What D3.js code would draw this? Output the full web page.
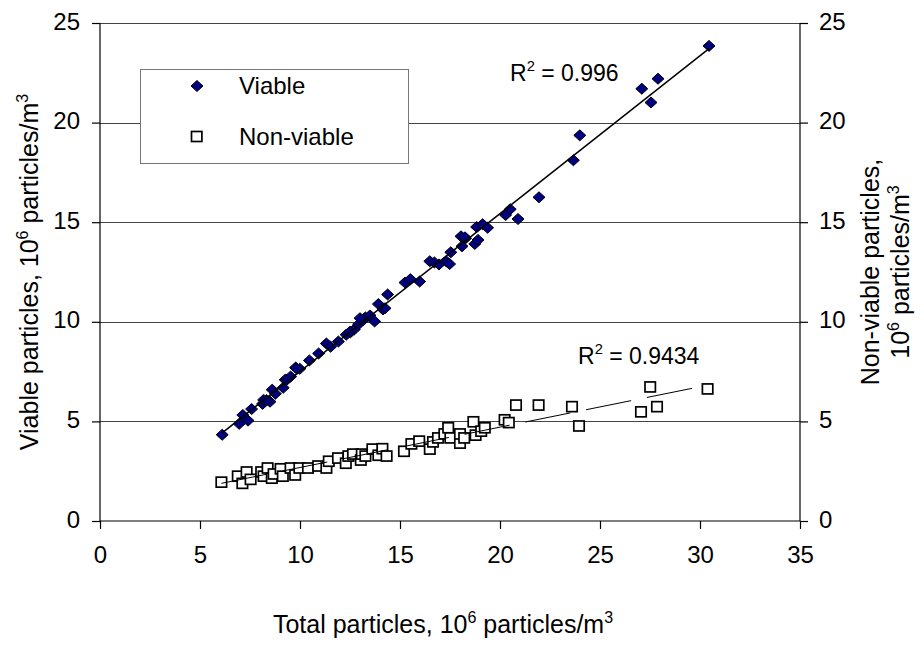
<!DOCTYPE html>
<html>
<head>
<meta charset="utf-8">
<script src="https://cdn.jsdelivr.net/npm/d3@7"></script>
<style>
  html, body { margin: 0; padding: 0; background: #fff; }
  svg text { font-family: "Liberation Sans", Arial, sans-serif; fill: #000; }
</style>
</head>
<body>
<svg id="chart" width="924" height="646"></svg>
<script>
// ---- data ----
const xTicks = [0, 5, 10, 15, 20, 25, 30, 35];
const yTicks = [0, 5, 10, 15, 20, 25];

const viableX = [6.11, 6.96, 7.14, 7.40, 7.58, 8.13, 8.18, 8.50, 8.61, 8.77, 9.16, 9.26, 9.53, 9.78, 9.99,
  10.47, 10.93, 11.32, 11.53, 11.92, 12.31, 12.52, 12.72, 12.93, 13.16, 13.27, 13.50, 13.73, 13.92, 14.15,
  14.38, 15.25, 15.52, 15.98, 16.49, 16.72, 16.95, 17.31, 17.54, 17.48, 18.05, 18.10, 18.28, 18.74, 18.83,
  18.90, 19.13, 19.38, 20.28, 20.51, 20.90, 21.95, 23.67, 23.99, 27.09, 27.55, 27.90, 30.45,
  8.33, 9.33, 9.83, 12.50, 13.00, 14.25, 18.25];
const viableY = [4.33, 4.88, 5.32, 5.04, 5.62, 5.88, 6.08, 5.99, 6.59, 6.39, 6.69, 7.09, 7.25, 7.70, 7.64,
  8.06, 8.41, 8.91, 8.75, 9.01, 9.35, 9.47, 9.62, 9.88, 10.08, 10.22, 10.32, 10.02, 10.89, 10.62,
  11.37, 11.97, 12.14, 12.02, 13.04, 12.98, 12.88, 13.04, 13.49, 12.90, 14.29, 13.79, 14.19, 13.91, 14.76,
  14.11, 14.90, 14.72, 15.36, 15.65, 15.16, 16.25, 18.11, 19.36, 21.70, 21.01, 22.20, 23.85,
  6.07, 7.08, 7.66, 9.50, 10.18, 10.68, 14.24];

const nonViableX = [6.07, 6.89, 7.12, 7.33, 7.53, 8.06, 8.18, 8.38, 8.59, 8.68, 9.03, 9.14, 9.53, 9.76, 9.97,
  10.40, 10.91, 11.32, 11.44, 11.90, 12.29, 12.42, 12.65, 13.04, 13.09, 13.27, 13.62, 13.92, 14.12, 14.33,
  15.20, 15.57, 15.96, 16.49, 16.65, 16.90, 17.22, 17.41, 17.52, 18.00, 18.00, 18.21, 18.67, 18.78, 19.06,
  19.24, 20.23, 20.44, 20.80, 21.93, 23.60, 23.95, 27.05, 27.51, 27.85, 30.38];
const nonViableY = [1.95, 2.25, 1.89, 2.46, 2.09, 2.46, 2.25, 2.66, 2.15, 2.36, 2.62, 2.25, 2.66, 2.31, 2.66,
  2.66, 2.76, 2.66, 3.00, 3.16, 2.90, 3.26, 3.36, 3.06, 3.36, 3.26, 3.61, 3.30, 3.63, 3.26,
  3.50, 3.87, 4.01, 3.61, 3.97, 4.17, 4.37, 4.68, 4.17, 3.91, 4.37, 4.17, 4.98, 4.31, 4.51,
  4.68, 5.08, 4.94, 5.82, 5.82, 5.74, 4.77, 5.48, 6.73, 5.74, 6.63];

const seriesNames = ["Viable", "Non-viable"];
const r2Labels = ["0.996", "0.9434"];

// ---- layout ----
const svg = d3.select("#chart");
const W = 924, H = 646;
const plot = { left: 100, right: 800, top: 23, bottom: 521 };
const TICK_FONT = 24, TITLE_FONT = 25, LEGEND_FONT = 24, R2_FONT = 23;
const FAMILY = '"Liberation Sans", Arial, sans-serif';

const x = d3.scaleLinear().domain([0, 35]).range([plot.left, plot.right]);
const y = d3.scaleLinear().domain([0, 25]).range([plot.bottom, plot.top]);

svg.append("rect").attr("width", W).attr("height", H).attr("fill", "#fff");

// gridlines
svg.append("g")
  .selectAll("line").data(yTicks.filter(d => d > 0)).join("line")
  .attr("x1", plot.left).attr("x2", plot.right)
  .attr("y1", d => Math.round(y(d)) + 0.5).attr("y2", d => Math.round(y(d)) + 0.5)
  .attr("stroke", "#444").attr("stroke-width", 1);

// axes
const xAxis = d3.axisBottom(x).tickValues(xTicks).tickSize(8).tickPadding(17).tickFormat(d3.format("d"));
const yAxisL = d3.axisLeft(y).tickValues(yTicks).tickSize(8).tickPadding(12).tickFormat(d3.format("d"));
const yAxisR = d3.axisRight(y).tickValues(yTicks).tickSize(8).tickPadding(11).tickFormat(d3.format("d"));

function styleAxis(g) {
  g.attr("font-size", TICK_FONT).attr("font-family", FAMILY);
  g.select(".domain").attr("stroke", "#000").attr("stroke-width", 1.2);
  g.selectAll(".tick line").attr("stroke", "#000").attr("stroke-width", 1.2);
  g.selectAll(".tick text").attr("font-size", TICK_FONT).attr("font-family", FAMILY).attr("fill", "#000");
}
const gx = svg.append("g").attr("transform", `translate(0,${plot.bottom})`).call(xAxis).call(styleAxis);
gx.select(".domain").attr("d", `M${plot.left},0H${plot.right}`);
const gl = svg.append("g").attr("transform", `translate(${plot.left},0)`).call(yAxisL).call(styleAxis);
gl.select(".domain").attr("d", `M0,${plot.bottom}V${plot.top}`);
const gr = svg.append("g").attr("transform", `translate(${plot.right},0)`).call(yAxisR).call(styleAxis);
gr.select(".domain").attr("d", `M0,${plot.bottom}V${plot.top}`);
gl.selectAll(".tick text").attr("dy", "0.25em");
gr.selectAll(".tick text").attr("dy", "0.25em");

// ---- markers ----
const diamond = "M0,-5.5L6,0L0,5.5L-6,0Z";
const viable = viableX.map((v, i) => ({ x: v, y: viableY[i] }));
const nonViable = nonViableX.map((v, i) => ({ x: v, y: nonViableY[i] }));

svg.append("g").selectAll("rect").data(nonViable).join("rect")
  .attr("x", d => x(d.x) - 5.2).attr("y", d => y(d.y) - 5)
  .attr("width", 10.4).attr("height", 10)
  .attr("fill", "#fff").attr("stroke", "#000").attr("stroke-width", 1.7);

svg.append("g").selectAll("path").data(viable).join("path")
  .attr("d", diamond)
  .attr("transform", d => `translate(${x(d.x)},${y(d.y)})`)
  .attr("fill", "#000080").attr("stroke", "#000").attr("stroke-width", 1);

// ---- linear trend lines (least squares from the data) ----
function fit(pts) {
  const mx = d3.mean(pts, d => d.x), my = d3.mean(pts, d => d.y);
  let sxy = 0, sxx = 0;
  pts.forEach(d => { sxy += (d.x - mx) * (d.y - my); sxx += (d.x - mx) ** 2; });
  const b = sxy / sxx, a = my - b * mx;
  const [x0, x1] = d3.extent(pts, d => d.x);
  return [{ x: x0, y: a + b * x0 }, { x: x1, y: a + b * x1 }];
}
const line = d3.line().x(d => x(d.x)).y(d => y(d.y));
svg.append("path").attr("d", line(fit(viable)))
  .attr("fill", "none").attr("stroke", "#000").attr("stroke-width", 1.5);
svg.append("path").attr("d", line(fit(nonViable)))
  .attr("fill", "none").attr("stroke", "#000").attr("stroke-width", 1)
  .attr("stroke-dasharray", "46,16");

// ---- text helper with superscripts ----
function supText(sel, parts, size) {
  sel.attr("font-size", size).attr("font-family", FAMILY);
  let shift = 0;
  parts.forEach(([s, sup]) => {
    if (sup) {
      const r = size * 0.42;
      sel.append("tspan").attr("font-size", size * 0.64).attr("dy", -r + shift).text(s);
      shift = r;
    } else {
      sel.append("tspan").attr("font-size", size).attr("dy", shift).text(s);
      shift = 0;
    }
  });
  return sel;
}

// R² labels
supText(svg.append("text").attr("x", 510).attr("y", 81),
  [["R", false], ["2", true], [" = " + r2Labels[0], false]], R2_FONT);
supText(svg.append("text").attr("x", 578).attr("y", 364),
  [["R", false], ["2", true], [" = " + r2Labels[1], false]], R2_FONT);

// ---- legend ----
const lg = svg.append("g");
lg.append("rect").attr("x", 140.5).attr("y", 69.5).attr("width", 268).attr("height", 94)
  .attr("fill", "#fff").attr("stroke", "#777").attr("stroke-width", 1);
lg.append("path").attr("d", diamond).attr("transform", "translate(197,86)")
  .attr("fill", "#000080").attr("stroke", "#000").attr("stroke-width", 1);
lg.append("rect").attr("x", 191.5).attr("y", 131.5).attr("width", 10.4).attr("height", 10)
  .attr("fill", "#fff").attr("stroke", "#000").attr("stroke-width", 1.7);
lg.append("text").attr("x", 239).attr("y", 94).attr("font-size", LEGEND_FONT).attr("font-family", FAMILY).text(seriesNames[0]);
lg.append("text").attr("x", 239).attr("y", 145).attr("font-size", LEGEND_FONT).attr("font-family", FAMILY).text(seriesNames[1]);

// ---- axis titles ----
const midY = (plot.top + plot.bottom) / 2;
supText(svg.append("text").attr("x", 443).attr("y", 633).attr("text-anchor", "middle"),
  [["Total particles, 10", false], ["6", true], [" particles/m", false], ["3", true]], TITLE_FONT);

supText(svg.append("text").attr("transform", `translate(38,${midY}) rotate(-90)`)
  .attr("text-anchor", "middle"),
  [["Viable particles, 10", false], ["6", true], [" particles/m", false], ["3", true]], TITLE_FONT);

supText(svg.append("text").attr("transform", `translate(879,${midY}) rotate(-90)`)
  .attr("text-anchor", "middle"),
  [["Non-viable particles,", false]], TITLE_FONT);
supText(svg.append("text").attr("transform", `translate(909,${midY}) rotate(-90)`)
  .attr("text-anchor", "middle"),
  [["10", false], ["6", true], [" particles/m", false], ["3", true]], TITLE_FONT);
</script>
</body>
</html>
